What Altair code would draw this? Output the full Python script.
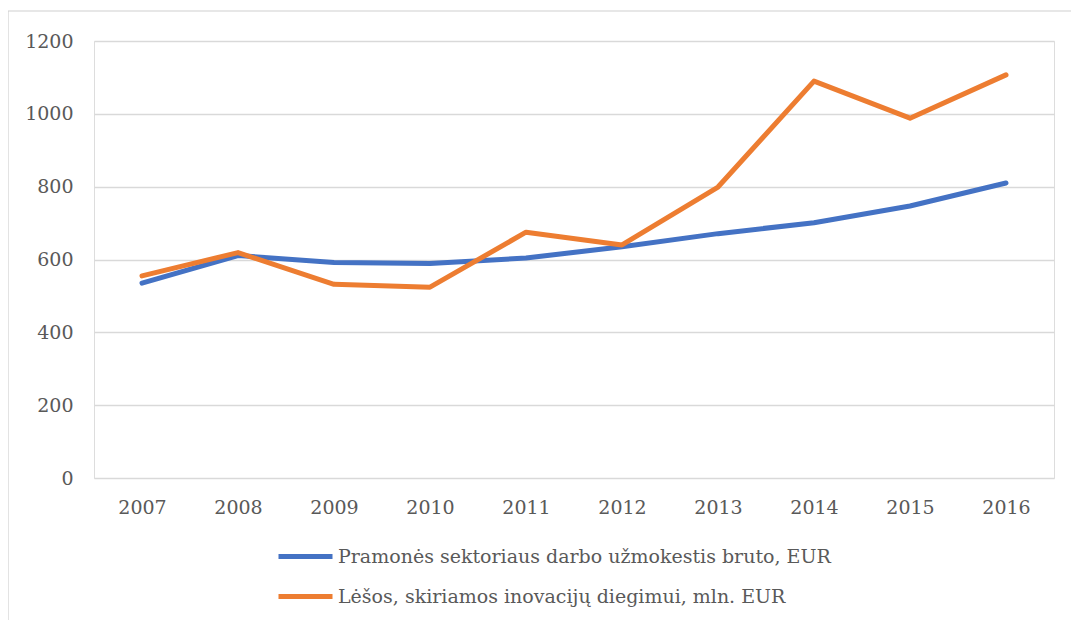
import altair as alt
import pandas as pd

years = ["2007", "2008", "2009", "2010", "2011", "2012", "2013", "2014", "2015", "2016"]
wages = [535, 611, 592, 589, 604, 635, 671, 701, 747, 810]
innov = [555, 619, 532, 524, 675, 640, 799, 1090, 988, 1107]
series = ["Pramonės sektoriaus darbo užmokestis bruto, EUR",
          "Lėšos, skiriamos inovacijų diegimui, mln. EUR"]
colors = ["#4472C4", "#ED7D31"]

rows = []
for y, v in zip(years, wages):
    rows.append({"year": y, "value": v, "series": series[0], "order": 0})
for y, v in zip(years, innov):
    rows.append({"year": y, "value": v, "series": series[1], "order": 1})
df = pd.DataFrame(rows)

FONT = "DejaVu Serif"
FS = 19
TXT = "#595959"

border = alt.Chart(pd.DataFrame({"a": [0]})).mark_rect(
    fill=None, stroke="#d0d0d0", strokeWidth=1.2, clip=False
).encode(
    x=alt.value(-86), x2=alt.value(1010), y=alt.value(-30), y2=alt.value(640)
)

lines = alt.Chart(df).mark_line(strokeWidth=5, strokeCap="round", strokeJoin="round").encode(
    x=alt.X("year:N", sort=years, scale=alt.Scale(type="point", padding=0.5),
            axis=alt.Axis(title=None, labelAngle=0, domain=False, ticks=False,
                          labelPadding=20, labelFont=FONT, labelFontSize=FS,
                          labelColor=TXT, grid=False)),
    y=alt.Y("value:Q", scale=alt.Scale(domain=[0, 1200]),
            axis=alt.Axis(title=None, values=[0, 200, 400, 600, 800, 1000, 1200],
                          format="d",
                          domain=False, ticks=False, labelPadding=21,
                          labelFont=FONT, labelFontSize=FS, labelColor=TXT,
                          grid=True, gridColor="#d9d9d9", gridWidth=1.5)),
    color=alt.Color("series:N", sort=series,
                    scale=alt.Scale(domain=series, range=colors),
                    legend=alt.Legend(title=None, orient="none", direction="vertical",
                                      legendX=182, legendY=486,
                                      symbolType="stroke", symbolSize=2916,
                                      symbolStrokeWidth=5,
                                      labelFont=FONT, labelFontSize=FS,
                                      labelColor=TXT, labelOffset=3,
                                      labelLimit=800,
                                      rowPadding=-12, padding=0)),
    order=alt.Order("order:Q"),
)

chart = alt.layer(border, lines).properties(
    width=960, height=437,
    autosize=alt.AutoSizeParams(type="none"),
    padding={"left": 86, "top": 33, "right": 17, "bottom": 142},
).configure_view(stroke=None).configure(background="white")

chart.save("out.html", embed_options={"renderer": "svg", "actions": False})
